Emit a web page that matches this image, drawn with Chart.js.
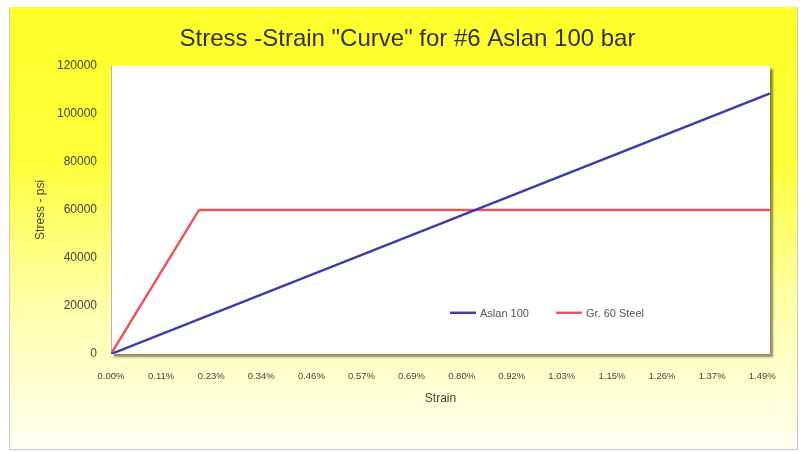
<!DOCTYPE html>
<html>
<head>
<meta charset="utf-8">
<script src="https://cdn.jsdelivr.net/npm/chart.js@4"></script>
<style>
  body { margin: 0; background: #fff; }
  #box {
    position: absolute; left: 9px; top: 7px; width: 787px; height: 442px;
    border-left: 1px solid #c9c9c9; border-right: 1px solid #c9c9c9; border-bottom: 1px solid #c9c9c9;
    background: linear-gradient(to bottom, #ffff2a 0%, #ffff3a 35%, #ffffa6 66%, #fffff2 100%);
  }
  #wrap { position: absolute; left: 0; top: 0; width: 804px; height: 452px; }
</style>
</head>
<body>
<div id="box"></div>
<div id="wrap"><canvas id="myChart" width="804" height="452"></canvas></div>
<script>
// datos (deformacion en %, esfuerzo en psi)
var aslanStrain = [0, 1.505];
var aslanStress = [0, 108500];
var steelStrain = [0, 0.201, 1.505];
var steelStress = [0, 60000, 60000];

// marcas del eje X
var strainTicks = [0, 0.1144, 0.2288, 0.3432, 0.4576, 0.572, 0.6864, 0.8008, 0.9152, 1.0296, 1.144, 1.2584, 1.3728, 1.4872];
var strainLabels = ['0.00%', '0.11%', '0.23%', '0.34%', '0.46%', '0.57%', '0.69%', '0.80%', '0.92%', '1.03%', '1.15%', '1.26%', '1.37%', '1.49%'];
var stressTicks = [0, 20000, 40000, 60000, 80000, 100000, 120000];

var fontFam = '"Liberation Sans", Arial, sans-serif';

function toPoints(xs, ys) {
  var pts = [];
  for (var i = 0; i < xs.length; i++) pts.push({ x: xs[i], y: ys[i] });
  return pts;
}

// fondo blanco del area de trazado con sombra
var plotFrame = {
  id: 'plotFrame',
  afterLayout: function(chart) {
    // el titulo del original esta algo corrido a la derecha
    if (chart.titleBlock) {
      chart.titleBlock.left += 18;
      chart.titleBlock.right += 18;
    }
  },
  beforeDatasetsDraw: function(chart) {
    var a = chart.chartArea, c = chart.ctx;
    c.save();
    c.shadowColor = 'rgba(0,0,0,0.45)';
    c.shadowOffsetX = 3;
    c.shadowOffsetY = 3;
    c.shadowBlur = 2;
    c.fillStyle = '#ffffff';
    c.fillRect(a.left, a.top, a.right - a.left, a.bottom - a.top);
    c.restore();
    c.save();
    c.strokeStyle = '#b5b5b5';
    c.lineWidth = 1;
    c.beginPath();
    c.moveTo(a.left + 0.5, a.bottom);
    c.lineTo(a.left + 0.5, a.top);
    c.stroke();
    c.restore();
  }
};

// leyenda dentro del grafico
var innerLegend = {
  id: 'innerLegend',
  afterDatasetsDraw: function(chart) {
    var a = chart.chartArea, c = chart.ctx;
    var x = a.left + 339, y = a.top + 247;
    c.save();
    c.font = '11px ' + fontFam;
    c.textBaseline = 'middle';
    chart.data.datasets.forEach(function(ds) {
      c.strokeStyle = ds.borderColor;
      c.lineWidth = 2.5;
      c.beginPath();
      c.moveTo(x, y);
      c.lineTo(x + 26, y);
      c.stroke();
      c.fillStyle = '#555';
      c.fillText(ds.label, x + 30, y + 1);
      x += 30 + c.measureText(ds.label).width + 27;
    });
    c.restore();
  }
};

var ctx = document.getElementById('myChart').getContext('2d');
var myChart = new Chart(ctx, {
  type: 'line',
  data: {
    datasets: [
      {
        label: 'Aslan 100',
        data: toPoints(aslanStrain, aslanStress),
        borderColor: '#3d3dab',
        borderWidth: 2.5,
        pointRadius: 0,
        fill: false
      },
      {
        label: 'Gr. 60 Steel',
        data: toPoints(steelStrain, steelStress),
        borderColor: '#e8575f',
        borderWidth: 2.5,
        pointRadius: 0,
        fill: false
      }
    ]
  },
  options: {
    responsive: false,
    animation: false,
    layout: { padding: { left: 9, right: 34, top: 7, bottom: 38 } },
    scales: {
      x: {
        type: 'linear',
        min: 0,
        max: 1.505,
        grid: { display: false, drawTicks: false },
        border: { display: false },
        afterBuildTicks: function(scale) {
          scale.ticks = strainTicks.map(function(v) { return { value: v }; });
        },
        afterFit: function(scale) { scale.height = 60; },
        ticks: {
          padding: 17,
          maxRotation: 0,
          autoSkip: false,
          color: '#444',
          font: { family: fontFam, size: 9.5 },
          callback: function(v, i) { return strainLabels[i]; }
        },
        title: {
          display: true,
          text: 'Strain',
          color: '#444',
          font: { family: fontFam, size: 12 },
          padding: { top: 0, bottom: 8 }
        }
      },
      y: {
        type: 'linear',
        min: 0,
        max: 120000,
        grid: { display: false, drawTicks: false },
        border: { display: false },
        afterBuildTicks: function(scale) {
          scale.ticks = stressTicks.map(function(v) { return { value: v }; });
        },
        afterFit: function(scale) { scale.width = 102; },
        ticks: {
          padding: 14,
          color: '#444',
          font: { family: fontFam, size: 12 },
          callback: function(v) { return String(v); }
        },
        title: {
          display: true,
          text: 'Stress - psi',
          color: '#444',
          font: { family: fontFam, size: 12 },
          padding: { top: 24, bottom: 0 }
        }
      }
    },
    plugins: {
      legend: { display: false },
      tooltip: { enabled: false },
      title: {
        display: true,
        text: 'Stress -Strain "Curve" for #6 Aslan 100 bar',
        color: '#333',
        font: { family: fontFam, size: 24, weight: 'normal' },
        padding: { top: 18, bottom: 12 }
      }
    }
  },
  plugins: [plotFrame, innerLegend]
});
</script>
</body>
</html>
